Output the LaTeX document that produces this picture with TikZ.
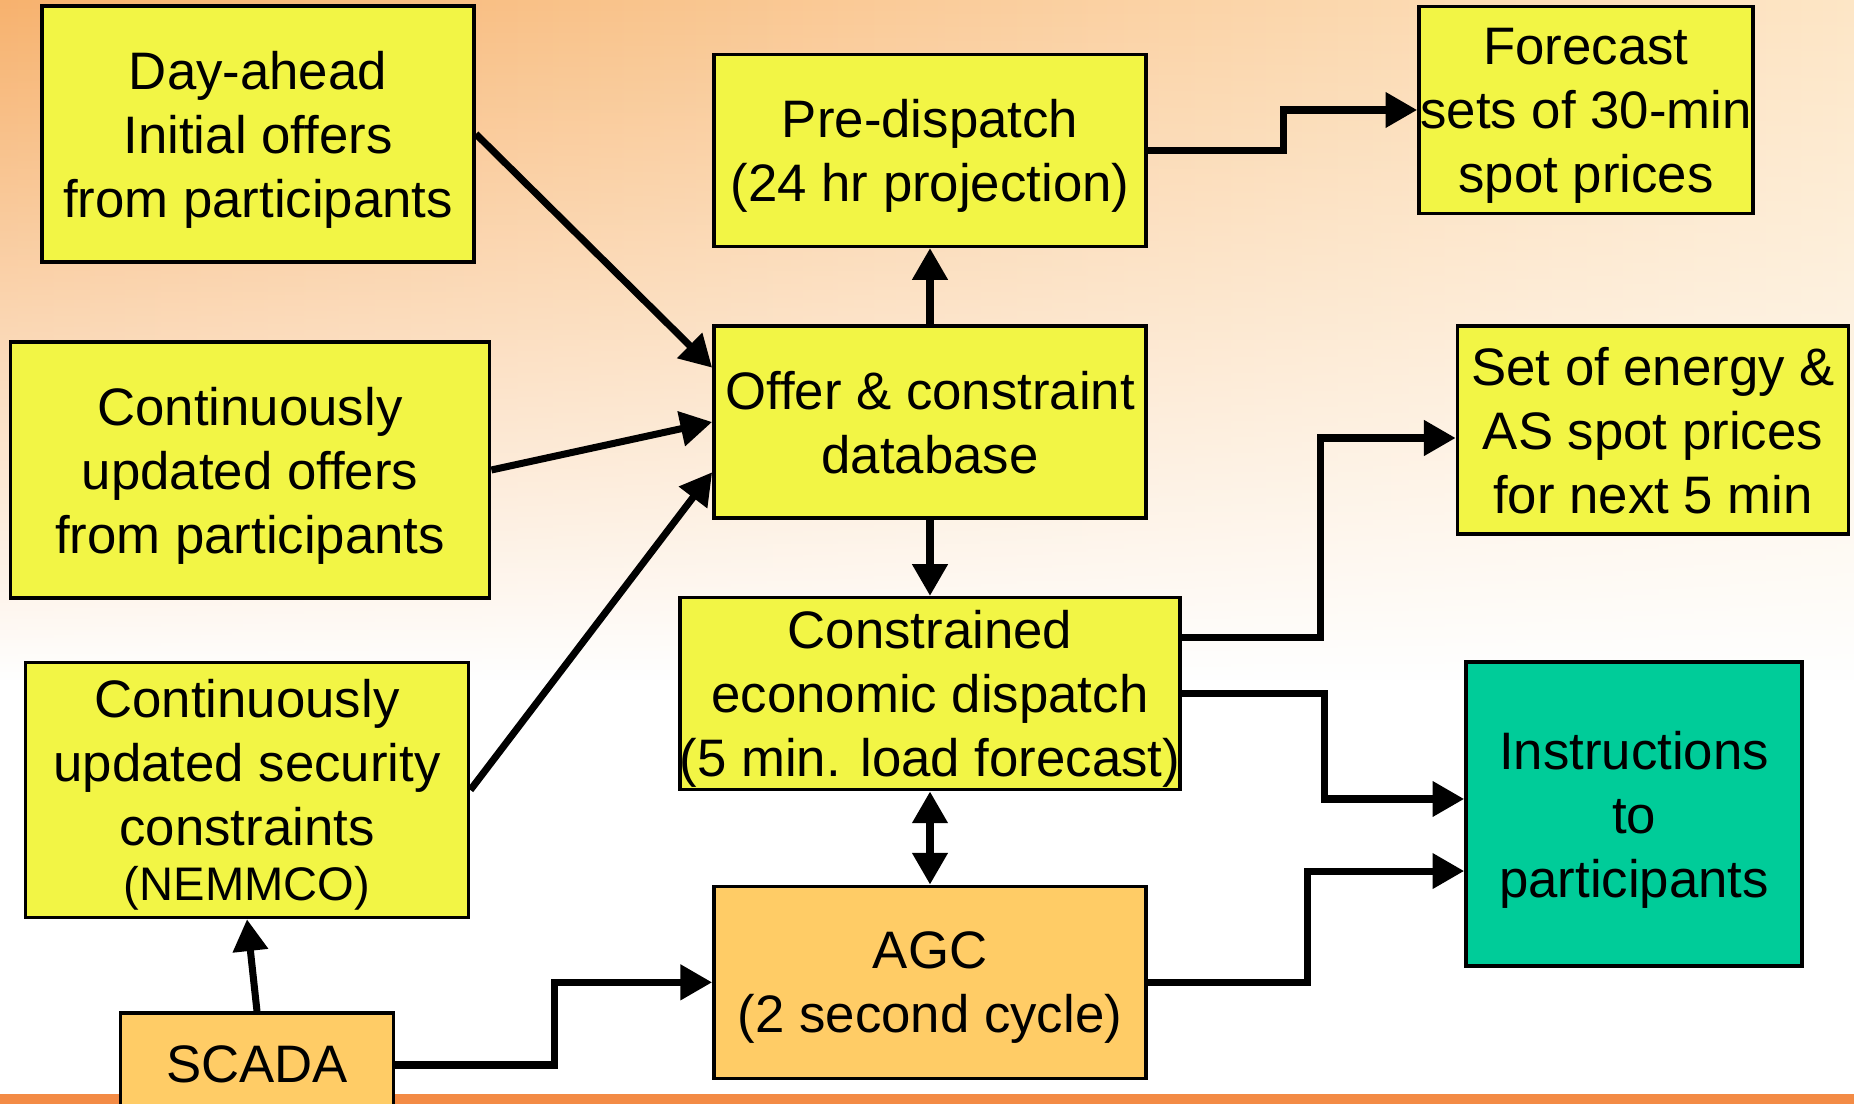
\documentclass[tikz,border=0pt]{standalone}
\usepackage{fontspec}
\setmainfont{Liberation Sans}
\usetikzlibrary{positioning,arrows.meta,calc,fadings}

\definecolor{boxyellow}{HTML}{F2F545}
\definecolor{boxorange}{HTML}{FFCC66}
\definecolor{boxgreen}{HTML}{00CC99}
\definecolor{bgorange}{HTML}{F7B26E}
\definecolor{bgpeach}{HTML}{FBCB92}
\definecolor{bgcream}{HTML}{FDE6C6}
\definecolor{bandorange}{HTML}{F38B45}

\tikzset{
  block/.style={draw=black, line width=1pt, fill=boxyellow, inner sep=0pt,
    align=center, font=\fontsize{15}{18.2}\selectfont, text depth=-0.8pt},
  agcblock/.style={block, fill=boxorange},
  outblock/.style={block, fill=boxgreen},
  flow/.style={line width=2pt, -{Triangle[length=9pt,width=9.7pt]}},
  both/.style={line width=2pt, {Triangle[length=9pt,width=9.7pt]}-{Triangle[length=9pt,width=9.7pt]}},
}

\begin{document}
\begin{tikzpicture}[x=0.01cm, y=-0.01cm]
  \useasboundingbox (0,0) rectangle (1854,1104);
  % background
  \fill[white] (0,0) rectangle (1854,1104);
  \shade[left color=bgorange, middle color=bgpeach, right color=bgcream, path fading=south]
    (0,0) rectangle (1854,680);
  \fill[bandorange] (0,1094) rectangle (1854,1104);

  % middle column
  \node[block, minimum width=4.32cm, minimum height=1.92cm] (offerdb) at (930,422) {Offer \& constraint\\database};
  \node[block, minimum width=4.32cm, minimum height=1.92cm, above=0.76cm of offerdb] (predisp) {Pre-dispatch\\(24 hr projection)};
  \node[block, minimum width=4.96cm, minimum height=1.92cm, below=0.76cm of offerdb] (ced) {Constrained\\economic dispatch\\(5 min. load forecast)};
  \node[agcblock, minimum width=4.32cm, minimum height=1.92cm, below=0.93cm of ced, text depth=-1.8pt] (agc) {AGC\\(2 second cycle)};

  % inputs
  \node[block, minimum width=4.32cm, minimum height=2.56cm] (dayahead) at (258,134) {Day-ahead\\Initial offers\\from participants};
  \node[block, minimum width=4.79cm, minimum height=2.56cm] (contoffers) at (250,470) {Continuously\\updated offers\\from participants};
  \node[block, minimum width=4.43cm, minimum height=2.55cm] (security) at (247,790) {Continuously\\updated security\\constraints\\[-2.4pt]{\fontsize{13.4}{16}\selectfont(NEMMCO)}};
  \node[agcblock, minimum width=2.73cm, minimum height=1.04cm, text depth=0.6pt] (scada) at (257,1065) {SCADA};

  % outputs
  \node[block, minimum width=3.34cm, minimum height=2.07cm] (forecast) at (1586,110) {Forecast\\sets of 30-min\\spot prices};
  \node[block, minimum width=3.91cm, minimum height=2.08cm] (energy) at (1653,430) {Set of energy \&\\AS spot prices\\for next 5 min};
  \node[outblock, minimum width=3.36cm, minimum height=3.04cm] (instr) at (1634,814) {Instructions\\to\\participants};

  \path[flow]
    (dayahead.east) edge (offerdb.166)
    (contoffers.east) edge (offerdb.west)
    (security.east) edge (offerdb.193)
    (scada.north) edge (security.south)
    (offerdb) edge (predisp)
    (offerdb) edge (ced);
  \draw[both] (ced) -- (agc);

  \draw[flow] (predisp.east) -- ++(136,0) |- (forecast.west);
  \draw[flow] ([yshift=0.56cm]ced.east) -- ++(139,0) |- ([yshift=-0.08cm]energy.west);
  \draw[flow] (ced.east) -- ++(143,0) |- ([yshift=0.15cm]instr.west);
  \draw[flow] (agc.east) -- ++(160,0) |- ([yshift=-0.57cm]instr.west);
  \draw[flow] (scada.east) -- ++(159,0) |- (agc.west);
\end{tikzpicture}
\end{document}
